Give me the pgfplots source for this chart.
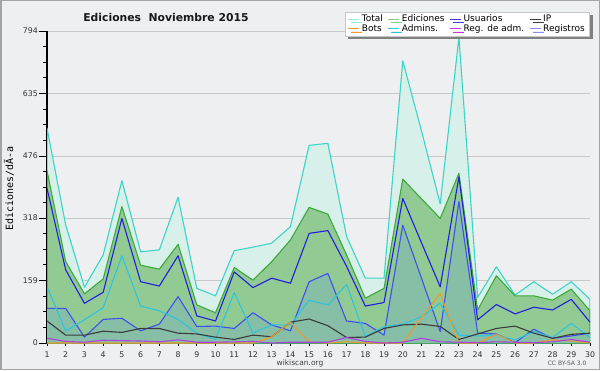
\documentclass[border=0pt]{standalone}
\usepackage{fontspec}
\setmainfont{DejaVu Sans}
\setmonofont{DejaVu Sans Mono}
\usepackage{pgfplots}
\usepackage{pgfplotstable}
\pgfplotsset{compat=1.18}
\usetikzlibrary{shadows}

\definecolor{bgc}{HTML}{EEEFF1}
\definecolor{bordc}{HTML}{A4A4A4}
\definecolor{totl}{HTML}{3CD4C6}
\definecolor{totlfill}{HTML}{D8F0EA}
\definecolor{edic}{HTML}{3AAA3A}
\definecolor{edicfill}{HTML}{92CA94}
\definecolor{usu}{HTML}{2020DC}
\definecolor{regi}{HTML}{4050EE}
\definecolor{regifill}{HTML}{86BEA6}
\definecolor{adm}{HTML}{2EC4E0}
\definecolor{ipc}{HTML}{3C3C3C}
\definecolor{bots}{HTML}{EE9A30}
\definecolor{regadm}{HTML}{B040E0}
\definecolor{gridc}{HTML}{C8C8C8}

\pgfplotstableread{
d total edic usu reg adm ip bots regadm
1 547 438 394 88 143 56 0 12
2 300 207 186 88 31 20 0 4
3 142 125 101 15 59 20 0 2
4 224 163 129 60 90 30 0 7
5 413 347 317 63 222 27 0 6
6 232 198 156 31 94 37 0 5
7 237 188 145 48 82 37 0 3
8 371 251 222 118 60 25 0 8
9 139 97 69 42 25 23 0 2
10 120 77 56 43 9 15 0 2
11 235 192 181 37 128 9 0 3
12 244 160 141 77 25 20 0 4
13 254 207 165 46 46 16 16 0
14 296 262 152 31 46 53 53 2
15 503 345 279 156 109 61 2 2
16 508 328 286 177 97 44 0 2
17 271 224 195 56 149 14 3 14
18 165 114 94 50 16 15 0 4
19 165 139 103 20 42 37 0 0
20 718 417 368 300 48 46 0 2
21 540 367 255 165 67 48 65 12
22 354 317 143 29 101 42 126 3
23 778 432 423 360 20 9 0 2
24 116 84 59 25 18 23 0 1
25 194 171 98 23 20 37 22 3
26 122 120 74 1 8 43 0 2
27 156 120 91 35 29 25 0 1
28 124 109 84 12 14 12 8 3
29 156 137 111 18 50 22 5 9
30 111 82 53 25 14 25 0 2
}\data

\begin{document}
\begin{tikzpicture}
\useasboundingbox (0,0) rectangle (600pt,370pt);
\fill[bgc] (0,0) rectangle (600pt,370pt);
\draw[bordc, line width=1.5pt] (0.75pt,0.75pt) rectangle (599.25pt,369.25pt);
\begin{axis}[
  at={(47pt,27pt)}, anchor=south west,
  scale only axis, width=543pt, height=312pt,
  xmin=1, xmax=30, ymin=0, ymax=794,
  axis lines*=left,
  axis line style={black, line width=1.1pt},
  xtick={1,...,30},
  ytick={0,159,318,476,635,794},
  minor ytick={39.75,79.5,119.25,198.75,238.5,278.25,357.5,397,436.5,515.75,555.5,595.25,674.75,714.5,754.25},
  tick align=outside,
  major tick length=8pt, minor tick length=4pt,
  xtick style={/pgfplots/major tick length=3pt},
  tick style={black, line width=0.9pt},
  ymajorgrids,
  grid style={gridc, line width=0.8pt},
  tick label style={font=\fontsize{7.8}{8}\selectfont, text=black!80},
  yticklabel style={inner xsep=1pt},
  xticklabel style={inner ysep=0.3pt},
  /pgf/number format/assume math mode=true,
  ylabel={\ttfamily Ediciones/dÃ-a},
  ylabel style={at={(axis description cs:-0.07,0.495)}, anchor=center, font=\fontsize{10}{12}\selectfont},
  legend columns=4,
  legend cell align=left,
  legend image code/.code={\draw[#1, line width=0.9pt] (0pt,0pt) -- (11pt,0pt);},
  legend style={at={(axis description cs:1,1.061)}, anchor=north east,
    fill=white, draw=gridc, line width=0.6pt,
    drop shadow={shadow xshift=3pt, shadow yshift=-3pt, fill=black!50, opacity=1},
    font=\fontsize{9}{9}\selectfont,
    inner xsep=3pt, inner ysep=2.5pt, row sep=0.6pt, column sep=0pt,
    nodes={inner xsep=2pt, inner ysep=0.3pt, text height=6.5pt, text depth=1.9pt},
    /tikz/every even column/.append style={column sep=3pt}},
  line join=round,
]
% legend entries
\addlegendimage{color=totl!55}
\addlegendentry{Total}
\addlegendimage{color=edic!60}
\addlegendentry{Ediciones}
\addlegendimage{color=usu!85}
\addlegendentry{Usuarios}
\addlegendimage{color=ipc}
\addlegendentry{IP}
\addlegendimage{color=bots}
\addlegendentry{Bots}
\addlegendimage{color=adm}
\addlegendentry{Admins.}
\addlegendimage{color=regadm!80!magenta}
\addlegendentry{Reg. de adm.}
\addlegendimage{color=regi!65}
\addlegendentry{Registros}

\addplot[draw=totl, fill=totlfill, line width=1.1pt, forget plot] table[x=d, y=total]{\data} \closedcycle;
\addplot[draw=edic, fill=edicfill, line width=1.1pt, forget plot] table[x=d, y=edic]{\data} \closedcycle;
\addplot[draw=none, fill=regifill, forget plot] table[x=d, y=reg]{\data} \closedcycle;
\addplot[draw=regi, line width=1.1pt, forget plot] table[x=d, y=reg]{\data};
\addplot[draw=usu, line width=1.1pt, forget plot] table[x=d, y=usu]{\data};
\addplot[draw=adm, line width=1.1pt, forget plot] table[x=d, y=adm]{\data};
\addplot[draw=ipc, line width=1.1pt, forget plot] table[x=d, y=ip]{\data};
\addplot[draw=bots, line width=1.1pt, forget plot] table[x=d, y=bots]{\data};
\addplot[draw=regadm, line width=1.1pt, forget plot] table[x=d, y=regadm]{\data};
\end{axis}
\node[font=\bfseries\fontsize{10.8}{12}\selectfont, text=black!90] at (166pt,353pt) {Ediciones\ \ Noviembre 2015};
\node[font=\fontsize{7.5}{8}\selectfont, text=black!75] at (300pt,7pt) {wikiscan.org};
\node[font=\fontsize{6}{7}\selectfont, text=black!65, anchor=east] at (590pt,7pt) {CC BY-SA 3.0};
\end{tikzpicture}
\end{document}
